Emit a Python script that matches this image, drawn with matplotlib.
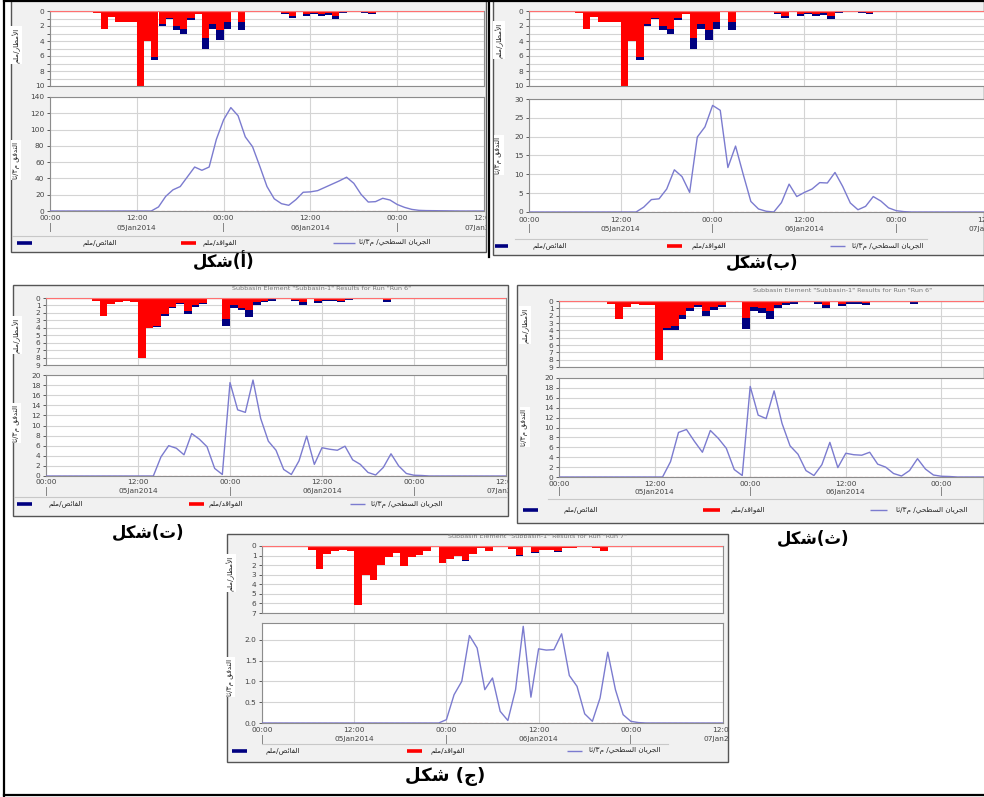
import numpy as np
import matplotlib
matplotlib.use("Agg")
import matplotlib.pyplot as plt
from matplotlib.patches import Rectangle
from matplotlib.lines import Line2D
from matplotlib.transforms import Bbox, TransformedBbox

plt.rcParams['font.family'] = ['DejaVu Sans', 'Noto Sans']

# ---------------------------------------------------------------- data
# hourly hyetographs: hour of start, losses (red) and excess (blue), mm
RAIN_AB_HOURS = [6, 7, 8, 9, 10, 11, 12, 13, 14, 15, 16, 17, 18, 19, 20, 21, 22, 23, 24, 26,
                 32, 33, 35, 36, 37, 38, 39, 40, 43, 44, 45]
RAIN_AB_LOSS = [0.25, 2.4, 0.8, 1.5, 1.4, 1.5, 10.0, 4.0, 6.1, 1.75, 0.95, 2.05, 2.45, 0.9, 0.35,
                3.6, 1.7, 2.5, 1.5, 1.5, 0.2, 0.6, 0.35, 0.2, 0.45, 0.3, 0.6, 0.15, 0.15, 0.2, 0.05]
RAIN_AB_EXCESS = [0, 0, 0, 0, 0, 0, 0, 0, 0.4, 0.25, 0.15, 0.45, 0.65, 0.25, 0.05,
                  1.4, 0.75, 1.3, 0.85, 1.0, 0.15, 0.35, 0.3, 0.25, 0.25, 0.2, 0.4, 0.05, 0.05, 0.25, 0.0]

RAIN_T_HOURS = [6, 7, 8, 9, 10, 11, 12, 13, 14, 15, 16, 17, 18, 19, 20, 23, 24, 25, 26, 27, 28, 29,
                32, 33, 35, 36, 37, 38, 39, 40, 43, 44, 45]
RAIN_T_LOSS = [0.35, 2.4, 0.85, 0.5, 0.4, 0.5, 8.0, 4.0, 3.7, 2.1, 1.2, 0.65, 1.7, 1.0, 0.65,
               2.8, 1.0, 1.3, 1.6, 0.6, 0.35, 0.2, 0.25, 0.6, 0.35, 0.25, 0.3, 0.35, 0.15, 0.1,
               0.15, 0.3, 0.1]
RAIN_T_EXCESS = [0, 0, 0, 0, 0, 0, 0, 0, 0.2, 0.3, 0.2, 0.15, 0.4, 0.2, 0.15,
                 1.0, 0.4, 0.3, 0.9, 0.3, 0.25, 0.2, 0.1, 0.4, 0.3, 0.15, 0.1, 0.25, 0.1, 0.05,
                 0.05, 0.2, 0.0]

RAIN_TH_HOURS = RAIN_T_HOURS
RAIN_TH_LOSS = [0.4, 2.4, 0.8, 0.4, 0.5, 0.5, 8.0, 3.7, 3.4, 1.9, 1.0, 0.6, 1.4, 0.8, 0.6,
                2.3, 0.8, 0.9, 1.3, 0.5, 0.3, 0.2, 0.2, 0.5, 0.35, 0.2, 0.2, 0.3, 0.1, 0.1,
                0.1, 0.2, 0.05]
RAIN_TH_EXCESS = [0, 0, 0, 0, 0, 0, 0, 0.2, 0.6, 0.6, 0.4, 0.2, 0.7, 0.4, 0.2,
                  1.5, 0.6, 0.7, 1.2, 0.5, 0.3, 0.2, 0.2, 0.5, 0.35, 0.2, 0.2, 0.3, 0.1, 0.1,
                  0.1, 0.25, 0.05]

RAIN_J_HOURS = [6, 7, 8, 9, 10, 11, 12, 13, 14, 15, 16, 17, 18, 19, 20, 21, 23, 24, 25, 26, 27,
                28, 29, 32, 33, 35, 36, 37, 38, 39, 40, 43, 44, 45]
RAIN_J_LOSS = [0.4, 2.4, 0.8, 0.5, 0.4, 0.5, 6.2, 3.0, 3.5, 2.0, 1.2, 0.7, 2.1, 1.2, 0.9, 0.5,
               1.8, 1.4, 1.0, 1.45, 0.8, 0.2, 0.5, 0.3, 0.95, 0.65, 0.4, 0.4, 0.55, 0.2, 0.2,
               0.2, 0.5, 0.1]
RAIN_J_EXCESS = [0, 0, 0, 0, 0, 0, 0, 0, 0, 0, 0, 0, 0, 0, 0, 0,
                 0, 0, 0.03, 0.08, 0.03, 0, 0.02, 0, 0.08, 0.06, 0.03, 0.02, 0.05, 0, 0,
                 0, 0.03, 0]

# hourly surface runoff, m3/s (first value at FLOW_*_START hours, zero elsewhere)
FLOW_A_START = 14
FLOW_A = [0, 5, 18, 26, 30, 42, 54, 50, 54, 88, 112, 127, 117, 91, 79, 55, 30, 15, 9, 7,
          14, 23, 23.5, 25, 29, 33, 37, 41.5, 34, 20.5, 11, 11.5, 15.6, 13.5, 8, 4.5, 2,
          0.8, 0.5, 0.4, 0.3, 0.2, 0.1, 0]
FLOW_B_START = 14
FLOW_B = [0, 1.3, 3.3, 3.5, 6.1, 11.2, 9.4, 5.2, 19.9, 22.6, 28.3, 27.0, 11.8, 17.5, 10.0,
          2.8, 0.8, 0.2, 0, 2.5, 7.4, 4.1, 5.2, 6.1, 7.8, 7.7, 10.5, 6.8, 2.4, 0.6, 1.5,
          4.1, 2.9, 1.1, 0.35, 0.1, 0]
FLOW_T_START = 14
FLOW_T = [0, 3.8, 6.0, 5.5, 4.2, 8.4, 7.3, 5.8, 1.5, 0.3, 18.5, 13.1, 12.6, 19.0, 11.4,
          6.9, 5.1, 1.3, 0.3, 3.0, 7.9, 2.3, 5.6, 5.3, 5.1, 5.9, 3.2, 2.3, 0.7, 0.2, 1.7,
          4.4, 2.0, 0.5, 0.15, 0.1, 0]
FLOW_TH_START = 13
FLOW_TH = [0, 3.1, 9.0, 9.6, 7.2, 5.0, 9.4, 7.8, 5.8, 1.5, 0.3, 18.3, 12.5, 11.8, 17.4,
           10.8, 6.3, 4.6, 1.3, 0.3, 2.5, 7.0, 1.9, 4.8, 4.5, 4.4, 5.0, 2.6, 2.0, 0.7, 0.2,
           1.3, 3.7, 1.6, 0.4, 0.15, 0.1, 0]
FLOW_J_START = 23
FLOW_J = [0, 0.08, 0.68, 1.0, 2.1, 1.8, 0.8, 1.08, 0.28, 0.06, 0.8, 2.32, 0.62, 1.78,
          1.75, 1.76, 2.14, 1.14, 0.88, 0.22, 0.04, 0.6, 1.7, 0.8, 0.2, 0.04, 0.01, 0]

TIME_TICKS = [0, 12, 24, 36, 48, 60]
TIME_LABELS = ["00:00", "12:00", "00:00", "12:00", "00:00", "12:00"]
DAY_MARKS = [0, 24, 48]
DATE_POS = [12, 36, 60]
DATE_LABELS = ["05Jan2014", "06Jan2014", "07Jan2014"]

# ---------------------------------------------------------------- Arabic text shaping
AR_FORMS = {
    '\u0627': (0xFE8D, 0xFE8E, None, None),
    '\u0623': (0xFE83, 0xFE84, None, None),
    '\u0628': (0xFE8F, 0xFE90, 0xFE91, 0xFE92),
    '\u062A': (0xFE95, 0xFE96, 0xFE97, 0xFE98),
    '\u062B': (0xFE99, 0xFE9A, 0xFE9B, 0xFE9C),
    '\u062C': (0xFE9D, 0xFE9E, 0xFE9F, 0xFEA0),
    '\u062D': (0xFEA1, 0xFEA2, 0xFEA3, 0xFEA4),
    '\u062F': (0xFEA9, 0xFEAA, None, None),
    '\u0631': (0xFEAD, 0xFEAE, None, None),
    '\u0633': (0xFEB1, 0xFEB2, 0xFEB3, 0xFEB4),
    '\u0634': (0xFEB5, 0xFEB6, 0xFEB7, 0xFEB8),
    '\u0636': (0xFEBD, 0xFEBE, 0xFEBF, 0xFEC0),
    '\u0637': (0xFEC1, 0xFEC2, 0xFEC3, 0xFEC4),
    '\u0641': (0xFED1, 0xFED2, 0xFED3, 0xFED4),
    '\u0642': (0xFED5, 0xFED6, 0xFED7, 0xFED8),
    '\u0643': (0xFED9, 0xFEDA, 0xFEDB, 0xFEDC),
    '\u0644': (0xFEDD, 0xFEDE, 0xFEDF, 0xFEE0),
    '\u0645': (0xFEE1, 0xFEE2, 0xFEE3, 0xFEE4),
    '\u0646': (0xFEE5, 0xFEE6, 0xFEE7, 0xFEE8),
    '\u0648': (0xFEED, 0xFEEE, None, None),
    '\u064A': (0xFEF1, 0xFEF2, 0xFEF3, 0xFEF4),
    '\u0626': (0xFE89, 0xFE8A, 0xFE8B, 0xFE8C),
}
LAM_ALEF = {'\u0627': (0xFEFB, 0xFEFC), '\u0623': (0xFEF7, 0xFEF8)}
MIRROR = {'(': ')', ')': '('}


def _dual(c):
    return c in AR_FORMS and AR_FORMS[c][2] is not None


def ar(text):
    """Join Arabic letters into their contextual forms and lay them out right-to-left."""
    out = []
    prev_joins = False
    i, n = 0, len(text)
    while i < n:
        c = text[i]
        if c not in AR_FORMS:
            out.append(c)
            prev_joins = False
            i += 1
            continue
        if c == '\u0644' and i + 1 < n and text[i + 1] in LAM_ALEF:
            iso, fin = LAM_ALEF[text[i + 1]]
            out.append(chr(fin if prev_joins else iso))
            prev_joins = False
            i += 2
            continue
        nxt = text[i + 1] if i + 1 < n else ''
        next_joins = _dual(c) and nxt in AR_FORMS
        iso, fin, ini, med = AR_FORMS[c]
        if prev_joins and next_joins:
            g = med
        elif prev_joins:
            g = fin
        elif next_joins:
            g = ini
        else:
            g = iso
        out.append(chr(g))
        prev_joins = _dual(c)
        i += 1
    return ''.join(MIRROR.get(ch, ch) for ch in reversed(out))


LBL_RAIN = ar("الأمطار/ملم")
LBL_FLOW = ar("التدفق م٣/ثا")
LEG_EXCESS = ar("الفائض/ملم")
LEG_LOSS = ar("الفواقد/ملم")
LEG_RUNOFF = ar("الجريان السطحي/ م٣/ثا")

# ---------------------------------------------------------------- figure
W, H = 984, 797
fig = plt.figure(figsize=(W / 100, H / 100), dpi=100)
fig.patch.set_facecolor('white')


def fx(x):
    return x / W


def fy(y):
    return 1 - y / H


def box(x0, y0, x1, y1):
    return [fx(x0), fy(y1), (x1 - x0) / W, (y1 - y0) / H]


TICK_FS = 5.3
GRID_C = '#d4d4d4'
SPINE_C = '#8c8c8c'
TXT_C = '#444444'
RED = '#ff0000'
NAVY = '#000080'
LINE_C = '#7b7bcf'


def style_axis(ax):
    for s in ax.spines.values():
        s.set_color(SPINE_C)
        s.set_linewidth(0.8)
    ax.set_facecolor('white')
    ax.tick_params(axis='y', labelsize=TICK_FS, colors=TXT_C, length=2.5, width=0.6, pad=1.5)
    ax.tick_params(axis='x', bottom=False, labelbottom=False)
    ax.set_xlim(0, 60)
    ax.set_xticks(TIME_TICKS)
    ax.grid(axis='x', color=GRID_C, lw=0.8)
    ax.set_axisbelow(True)


def draw_panel(p):
    x0, y0, x1, y1 = p['frame']
    clip = TransformedBbox(Bbox.from_extents(fx(x0), fy(y1), fx(x1), fy(y0)), fig.transFigure)
    fig.add_artist(Rectangle((fx(x0), fy(y1)), (x1 - x0) / W, (y1 - y0) / H,
                             transform=fig.transFigure, facecolor='#f1f1f1',
                             edgecolor='#555555', lw=1.0, zorder=0))
    L, R = p['x']
    tt, tb = p['top']
    bt, bb = p['bot']

    # hyetograph
    axt = fig.add_axes(box(L, tt, R, tb))
    style_axis(axt)
    hrs, loss, exc = p['rain']
    loss = np.asarray(loss)
    exc = np.asarray(exc)
    axt.bar(hrs, loss, width=1.0, align='edge', color=RED, lw=0, zorder=2)
    axt.bar(hrs, exc, width=1.0, bottom=loss, align='edge', color=NAVY, lw=0, zorder=2)
    axt.set_ylim(p['rain_max'], 0)
    axt.set_yticks(np.arange(0, p['rain_max'] + 0.1, 1))
    axt.set_yticklabels([str(v) if v % p['rain_step'] == 0 else ''
                         for v in range(0, p['rain_max'] + 1)])
    axt.grid(axis='y', color=GRID_C, lw=0.8)
    axt.axhline(0, color='#ff7070', lw=0.9, zorder=3)

    # hydrograph
    axb = fig.add_axes(box(L, bt, R, bb))
    style_axis(axb)
    hours = np.arange(61)
    flow = np.zeros(61)
    vals = np.asarray(p['flow'], dtype=float)
    flow[p['flow_start']:p['flow_start'] + len(vals)] = vals
    axb.plot(hours, flow, color=LINE_C, lw=1.0, zorder=3)
    axb.axhline(0, color='#e06060', lw=0.8, ls=(0, (3, 2)), zorder=4)
    axb.set_ylim(0, p['flow_max'])
    axb.set_yticks(p['flow_ticks'])
    axb.set_yticklabels(p['flow_labels'])
    axb.grid(axis='y', color=GRID_C, lw=0.8)

    # time axis labels (skipped where they would fall wholly past the page edge)
    xt = axb.get_xaxis_transform()

    def visible(h):
        return L + h * (R - L) / 60.0 - 12 < W

    def time_text(h, lab, dy, fs, col):
        t = axb.annotate(lab, xy=(h, 0), xycoords=xt, xytext=(0, -dy),
                         textcoords='offset pixels', ha='center', va='center',
                         fontsize=fs, color=col, annotation_clip=False)
        t.set_clip_box(clip)
        t.set_clip_on(True)

    for h, lab in zip(TIME_TICKS, TIME_LABELS):
        if visible(h):
            time_text(h, lab, p['dy_tick'], TICK_FS, TXT_C)
    for h in DAY_MARKS:
        if visible(h):
            time_text(h, '|', p['dy_date'], TICK_FS + 1, '#666666')
    for h, lab in zip(DATE_POS, DATE_LABELS):
        if visible(h):
            time_text(h, lab, p['dy_date'], TICK_FS, TXT_C)

    # axis titles
    lx = p['ylab_x']
    for txt, yy in ((LBL_RAIN, p['ylab_y'][0]), (LBL_FLOW, p['ylab_y'][1])):
        fig.text(fx(lx), fy(yy), txt, rotation=90, ha='center', va='center',
                 fontsize=5.2, color='#222222',
                 bbox=dict(facecolor='white', edgecolor='none', pad=1.2))

    # chart title
    if p.get('title'):
        t = fig.text(fx(p['title'][1]), fy(p['title'][2]), p['title'][0], ha='center',
                     va='center', fontsize=4.6, color='#777777')
        t.set_clip_box(clip)
        t.set_clip_on(True)

    # legend row
    sy = p['leg_sep']
    fig.add_artist(Line2D([fx(p['leg_sep_x'][0]), fx(p['leg_sep_x'][1])], [fy(sy), fy(sy)],
                          transform=fig.transFigure, color='#c8c8c8', lw=0.8))
    ly = p['leg_y']
    items = [(NAVY, 2.6, LEG_EXCESS), (RED, 2.6, LEG_LOSS), (LINE_C, 1.0, LEG_RUNOFF)]
    for (col, lw, txt), (sx0, sx1), tx in zip(items, p['leg_sw'], p['leg_tx']):
        fig.add_artist(Line2D([fx(sx0), fx(sx1)], [fy(ly), fy(ly)],
                              transform=fig.transFigure, color=col, lw=lw,
                              solid_capstyle='butt'))
        fig.text(fx(tx), fy(ly), txt, ha='center', va='center', fontsize=5.2, color='#222222')

    # caption
    cx, cy, ctxt, cfs = p['caption']
    fig.text(fx(cx), fy(cy), ctxt, ha='center', va='center', fontsize=cfs,
             fontweight='bold', color='black')


def caption(letter, gap=''):
    return ar("شكل") + gap + "(" + ar(letter) + ")"


RUN6 = 'Subbasin Element "Subbasin-1" Results for Run "Run 6"'
RUN7 = 'Subbasin Element "Subbasin-1" Results for Run "Run 7"'

panels = [
    dict(frame=(11, 0, 486, 252), x=(50, 484), top=(11, 86), bot=(97, 211),
         rain=(RAIN_AB_HOURS, RAIN_AB_LOSS, RAIN_AB_EXCESS), rain_max=10, rain_step=2,
         flow=FLOW_A, flow_start=FLOW_A_START, flow_max=140,
         flow_ticks=list(range(0, 141, 20)), flow_labels=[str(v) for v in range(0, 141, 20)],
         dy_tick=7, dy_date=17, ylab_x=16, ylab_y=(45, 160),
         leg_sep=236, leg_sep_x=(12, 484), leg_y=243,
         leg_sw=[(17, 32), (181, 196), (333, 355)], leg_tx=[100, 220, 395],
         caption=(224, 262, caption("أ"), 12)),
    dict(frame=(493, 0, 984, 255), x=(529, 988), top=(11, 86), bot=(99, 212),
         rain=(RAIN_AB_HOURS, RAIN_AB_LOSS, RAIN_AB_EXCESS), rain_max=10, rain_step=2,
         flow=FLOW_B, flow_start=FLOW_B_START, flow_max=30,
         flow_ticks=list(range(0, 31, 5)), flow_labels=[str(v) for v in range(0, 31, 5)],
         dy_tick=8, dy_date=17, ylab_x=499, ylab_y=(40, 155),
         leg_sep=239, leg_sep_x=(515, 927), leg_y=246,
         leg_sw=[(495, 508), (667, 682), (830, 845)], leg_tx=[550, 709, 888],
         caption=(762, 263, caption("ب"), 12)),
    dict(frame=(13, 285, 508, 516), x=(46, 506), top=(298, 365), bot=(375, 476),
         rain=(RAIN_T_HOURS, RAIN_T_LOSS, RAIN_T_EXCESS), rain_max=9, rain_step=1,
         flow=FLOW_T, flow_start=FLOW_T_START, flow_max=20,
         flow_ticks=list(range(0, 21, 2)), flow_labels=[str(v) for v in range(0, 21, 2)],
         dy_tick=6, dy_date=15, ylab_x=16, ylab_y=(335, 423),
         leg_sep=497, leg_sep_x=(14, 507), leg_y=504,
         leg_sw=[(17, 32), (189, 204), (350, 365)], leg_tx=[66, 226, 407],
         caption=(148, 533, caption("ت"), 12), title=(RUN6, 322, 289)),
    dict(frame=(517, 285, 984, 523), x=(559, 1037), top=(301, 367), bot=(378, 477),
         rain=(RAIN_TH_HOURS, RAIN_TH_LOSS, RAIN_TH_EXCESS), rain_max=9, rain_step=1,
         flow=FLOW_TH, flow_start=FLOW_TH_START, flow_max=20,
         flow_ticks=list(range(0, 21, 2)), flow_labels=[str(v) for v in range(0, 21, 2)],
         dy_tick=7, dy_date=15, ylab_x=525, ylab_y=(325, 427),
         leg_sep=499, leg_sep_x=(548, 984), leg_y=510,
         leg_sw=[(523, 538), (703, 720), (870, 887)], leg_tx=[581, 748, 932],
         caption=(813, 539, caption("ث"), 12), title=(RUN6, 843, 291)),
    dict(frame=(227, 534, 728, 762), x=(262, 723), top=(546, 613), bot=(623, 723),
         rain=(RAIN_J_HOURS, RAIN_J_LOSS, RAIN_J_EXCESS), rain_max=7, rain_step=1,
         flow=FLOW_J, flow_start=FLOW_J_START, flow_max=2.4,
         flow_ticks=[0, 0.5, 1.0, 1.5, 2.0], flow_labels=["0.0", "0.5", "1.0", "1.5", "2.0"],
         dy_tick=7, dy_date=16, ylab_x=230, ylab_y=(573, 677),
         leg_sep=744, leg_sep_x=(262, 668), leg_y=751,
         leg_sw=[(232, 247), (407, 422), (567, 582)], leg_tx=[283, 448, 625],
         caption=(445, 777, caption("ج", " "), 13), title=(RUN7, 537, 537)),
]

for p in panels:
    draw_panel(p)

# page borders
for xs, ys, lw in [((4, 4), (0, 797), 1.6), ((4, 984), (1, 1), 1.6),
                   ((4, 984), (795, 795), 1.6), ((489, 489), (0, 257), 1.6)]:
    fig.add_artist(Line2D([fx(xs[0]), fx(xs[1])], [fy(ys[0]), fy(ys[1])],
                          transform=fig.transFigure, color='black', lw=lw))

fig.savefig("out.png", dpi=100, facecolor='white')
